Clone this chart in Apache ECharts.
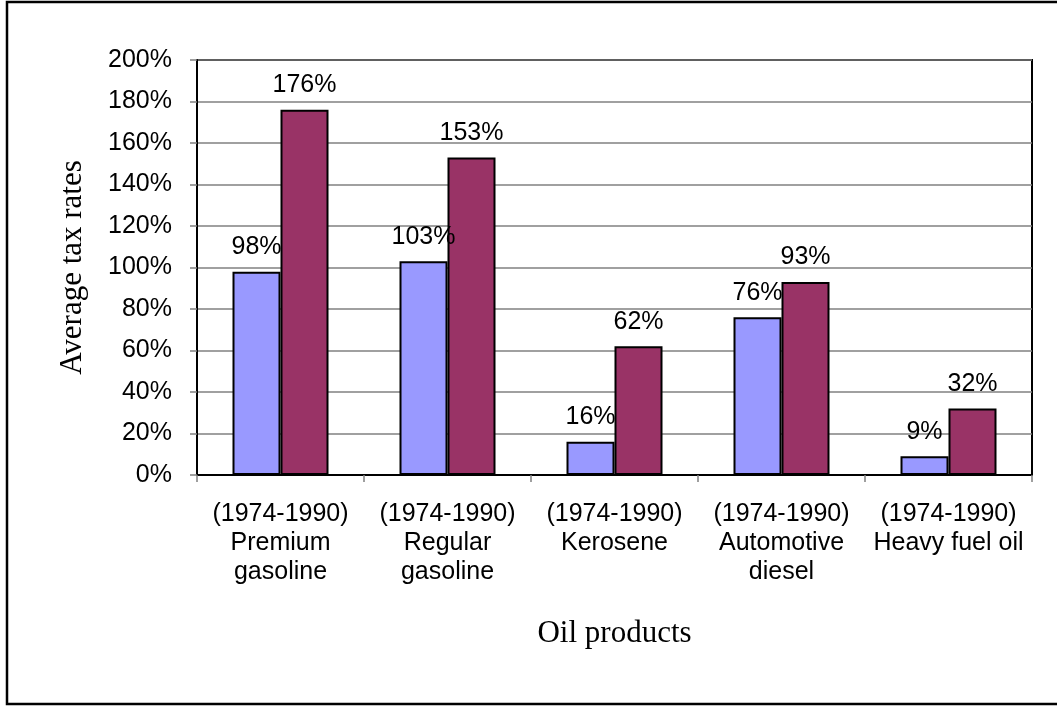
<!DOCTYPE html>
<html>
<head>
<meta charset="utf-8">
<script src="https://cdn.jsdelivr.net/npm/echarts@6/dist/echarts.min.js"></script>
<style>
html,body{margin:0;padding:0;background:#fff;}
#c{width:1057px;height:707px;}
</style>
</head>
<body>
<div id="c"></div>
<script>
const categories = [
  "(1974-1990)\nPremium\ngasoline",
  "(1974-1990)\nRegular\ngasoline",
  "(1974-1990)\nKerosene",
  "(1974-1990)\nAutomotive\ndiesel",
  "(1974-1990)\nHeavy fuel oil"
];
const seriesA = [98, 103, 16, 76, 9];
const seriesB = [176, 153, 62, 93, 32];
const yTicks = [0, 20, 40, 60, 80, 100, 120, 140, 160, 180, 200];

const chart = echarts.init(document.getElementById('c'), null, {renderer: 'canvas'});
const sans = 'Liberation Sans, Arial, sans-serif';
const serif = 'Liberation Serif, Times New Roman, serif';
const labelStyle = {
  show: true, position: 'top', distance: 12,
  formatter: p => p.value + '%',
  fontFamily: sans, fontSize: 25, color: '#000'
};
chart.setOption({
  animation: false,
  backgroundColor: '#fff',
  graphic: [{
    type: 'rect', z: 100, silent: true,
    shape: {x: 7, y: 2, width: 1060, height: 702},
    style: {fill: 'none', stroke: '#000', lineWidth: 2.5}
  }],
  grid: {left: 197, right: 25, top: 60, bottom: 232, show: true, borderColor: '#000', borderWidth: 2, backgroundColor: '#fff'},
  xAxis: {
    type: 'category',
    data: categories,
    name: 'Oil products',
    nameLocation: 'middle',
    nameGap: 143,
    nameTextStyle: {fontFamily: serif, fontSize: 31, color: '#000'},
    axisLine: {lineStyle: {color: '#000', width: 2}},
    axisTick: {show: true, length: 7, lineStyle: {color: '#808080', width: 1.5}},
    axisLabel: {margin: 25, fontFamily: sans, fontSize: 25, lineHeight: 29, color: '#000', interval: 0}
  },
  yAxis: {
    type: 'value',
    min: 0, max: 200, interval: 20,
    name: 'Average tax rates',
    nameLocation: 'middle',
    nameGap: 109,
    nameTextStyle: {fontFamily: serif, fontSize: 31, color: '#000'},
    axisLine: {show: true, lineStyle: {color: '#000', width: 2}},
    axisTick: {show: true, length: 7, lineStyle: {color: '#808080', width: 1.5}},
    axisLabel: {margin: 25, fontFamily: sans, fontSize: 25, color: '#000',
      formatter: v => yTicks.includes(v) ? v + '%' : ''},
    splitLine: {show: true, lineStyle: {color: '#808080', width: 1.5}}
  },
  series: [
    {type: 'bar', data: seriesA, barWidth: 48, barGap: '0%',
     itemStyle: {color: '#9999FF', borderColor: '#000', borderWidth: 2},
     label: labelStyle},
    {type: 'bar', data: seriesB, barWidth: 48, barGap: '0%',
     itemStyle: {color: '#993366', borderColor: '#000', borderWidth: 2},
     label: labelStyle}
  ]
});
</script>
</body>
</html>
